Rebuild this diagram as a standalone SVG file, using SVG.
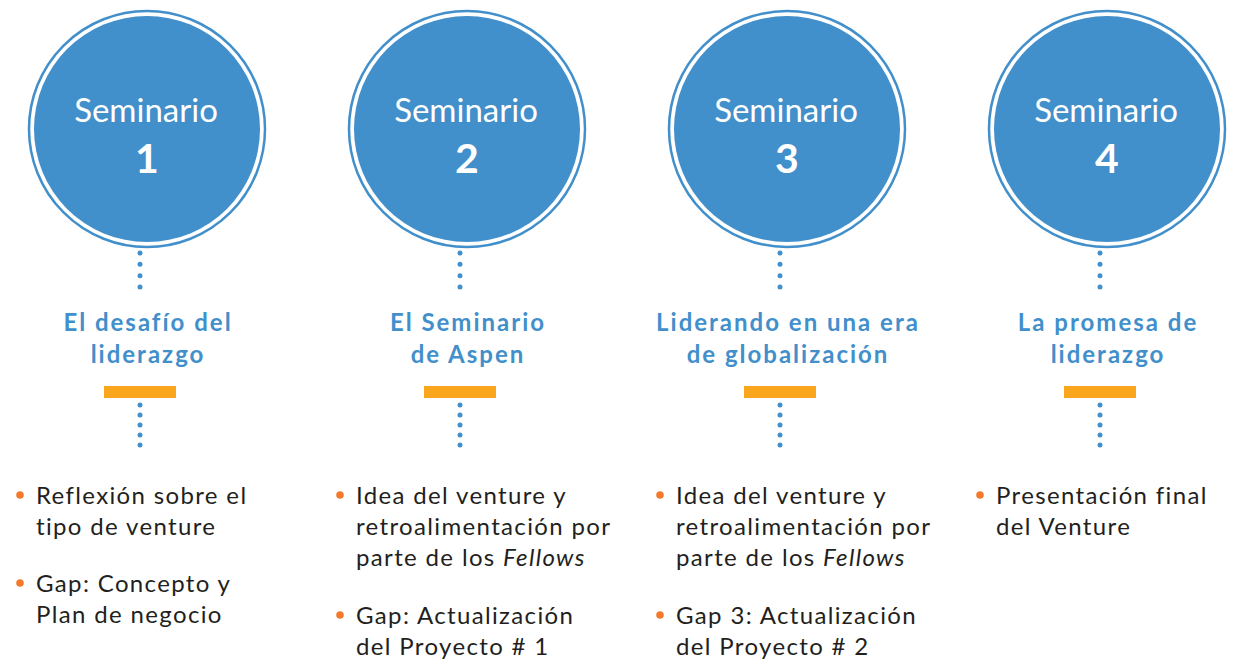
<svg xmlns="http://www.w3.org/2000/svg" width="1238" height="662" viewBox="0 0 1238 662">
<style>
.ring{fill:#fff;stroke:#418FCB;stroke-width:2.5}
.disc{fill:#418FCB}
.sem{font-family:Lato,"Liberation Sans",sans-serif;font-size:33px;fill:#fff;text-anchor:middle}
.num{font-family:Lato,"Liberation Sans",sans-serif;font-size:41px;font-weight:bold;fill:#fff;text-anchor:middle}
.title{font-family:Lato,"Liberation Sans",sans-serif;font-size:24px;font-weight:bold;letter-spacing:2px;fill:#418FCB;text-anchor:middle}
.bar{fill:#F9A61C}
.body{font-family:Lato,"Liberation Sans",sans-serif;font-size:24px;letter-spacing:1.35px;fill:#231F20}
.bul{fill:#F37A2A}
.dotsA{stroke:#418FCB;stroke-width:5;stroke-linecap:round;stroke-dasharray:0 11.33;fill:none}
.dotsB{stroke:#418FCB;stroke-width:5;stroke-linecap:round;stroke-dasharray:0 10;fill:none}
</style>
<g id="connectors">
<line class="dotsA" x1="140" y1="253" x2="140" y2="287"/>
<line class="dotsB" x1="140" y1="405" x2="140" y2="455"/>
<line class="dotsA" x1="460" y1="253" x2="460" y2="287"/>
<line class="dotsB" x1="460" y1="405" x2="460" y2="455"/>
<line class="dotsA" x1="780" y1="253" x2="780" y2="287"/>
<line class="dotsB" x1="780" y1="405" x2="780" y2="455"/>
<line class="dotsA" x1="1100" y1="253" x2="1100" y2="287"/>
<line class="dotsB" x1="1100" y1="405" x2="1100" y2="455"/>
</g>
<g id="seminario1">
<circle class="ring" cx="147" cy="129" r="118"/>
<circle class="disc" cx="147" cy="129" r="113"/>
<text class="sem" x="146" y="122">Seminario</text>
<text class="num" x="147" y="173">1</text>
<text class="title" x="148" y="331">El desafío del</text>
<text class="title" x="148" y="363">liderazgo</text>
<rect class="bar" x="104" y="386" width="72" height="12"/>
<circle class="bul" cx="20" cy="495" r="3.8"/>
<text class="body" x="36" y="504">Reflexión sobre el</text>
<text class="body" x="36" y="535">tipo de venture</text>
<circle class="bul" cx="20" cy="583" r="3.8"/>
<text class="body" x="36" y="592">Gap: Concepto y</text>
<text class="body" x="36" y="623">Plan de negocio</text>
</g>
<g id="seminario2">
<circle class="ring" cx="467" cy="129" r="118"/>
<circle class="disc" cx="467" cy="129" r="113"/>
<text class="sem" x="466" y="122">Seminario</text>
<text class="num" x="467" y="173">2</text>
<text class="title" x="468" y="331">El Seminario</text>
<text class="title" x="468" y="363">de Aspen</text>
<rect class="bar" x="424" y="386" width="72" height="12"/>
<circle class="bul" cx="340" cy="495" r="3.8"/>
<text class="body" x="356" y="504">Idea del venture y</text>
<text class="body" x="356" y="535">retroalimentación por</text>
<text class="body" x="356" y="566">parte de los <tspan font-style="italic">Fellows</tspan></text>
<circle class="bul" cx="340" cy="615" r="3.8"/>
<text class="body" x="356" y="624">Gap: Actualización</text>
<text class="body" x="356" y="655">del Proyecto # 1</text>
</g>
<g id="seminario3">
<circle class="ring" cx="787" cy="129" r="118"/>
<circle class="disc" cx="787" cy="129" r="113"/>
<text class="sem" x="786" y="122">Seminario</text>
<text class="num" x="787" y="173">3</text>
<text class="title" x="788" y="331">Liderando en una era</text>
<text class="title" x="788" y="363">de globalización</text>
<rect class="bar" x="744" y="386" width="72" height="12"/>
<circle class="bul" cx="660" cy="495" r="3.8"/>
<text class="body" x="676" y="504">Idea del venture y</text>
<text class="body" x="676" y="535">retroalimentación por</text>
<text class="body" x="676" y="566">parte de los <tspan font-style="italic">Fellows</tspan></text>
<circle class="bul" cx="660" cy="615" r="3.8"/>
<text class="body" x="676" y="624">Gap 3: Actualización</text>
<text class="body" x="676" y="655">del Proyecto # 2</text>
</g>
<g id="seminario4">
<circle class="ring" cx="1107" cy="129" r="118"/>
<circle class="disc" cx="1107" cy="129" r="113"/>
<text class="sem" x="1106" y="122">Seminario</text>
<text class="num" x="1107" y="173">4</text>
<text class="title" x="1108" y="331">La promesa de</text>
<text class="title" x="1108" y="363">liderazgo</text>
<rect class="bar" x="1064" y="386" width="72" height="12"/>
<circle class="bul" cx="980" cy="495" r="3.8"/>
<text class="body" x="996" y="504">Presentación final</text>
<text class="body" x="996" y="535">del Venture</text>
</g>
</svg>
